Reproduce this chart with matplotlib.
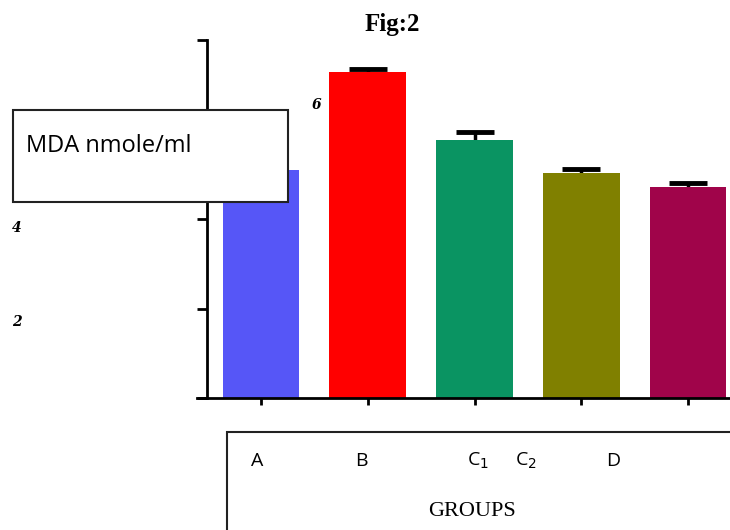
import numpy as np
import matplotlib
matplotlib.use("Agg")
import matplotlib.pyplot as plt
from matplotlib.patches import Rectangle

# data
groups = ["A", "B", "C1", "C2", "D"]
mda = [5.09, 7.28, 5.77, 5.03, 4.72]
sem = [0.10, 0.07, 0.18, 0.09, 0.09]
bar_colors = ["#5656F7", "#FF0000", "#0A9462", "#808000", "#A0044A"]
y_ticks = [0, 2, 4, 6, 8]

W, H = 730, 530
fig = plt.figure(figsize=(W / 100, H / 100), dpi=100)

def fx(px):
    return px / W

def fy(py):
    return 1 - py / H

# axes box in pixels: x 197..730, y 40..398
ax = fig.add_axes([fx(197), fy(398), fx(730) - fx(197), fy(40) - fy(398)])
x = np.arange(len(groups))
ax.bar(x, mda, width=0.72, color=bar_colors, zorder=2)
# error bars sit behind the bars so only the upper half shows
ax.errorbar(x, mda, yerr=sem, fmt="none", ecolor="black",
            elinewidth=2.5, capsize=14, capthick=3.5, zorder=1.5, clip_on=False)

ax.set_xlim(-0.6, 4.393)
ax.set_ylim(0, 8)
for s in ["top", "right"]:
    ax.spines[s].set_visible(False)
ax.spines["left"].set_position(("data", -0.506))
ax.spines["left"].set_linewidth(2)
ax.spines["bottom"].set_linewidth(2)
ax.set_xticks(x)
ax.set_xticklabels([])
ax.set_yticks(y_ticks)
ax.set_yticklabels([])
ax.tick_params(axis="y", length=7, width=2, direction="out")
ax.tick_params(axis="x", length=5, width=2, direction="out")

# stray y labels as they sit in the original
lab = dict(fontfamily="DejaVu Serif", fontweight="bold", fontstyle="italic",
           fontsize=10, ha="center", va="center")
fig.text(fx(316), fy(105), "6", **lab)
fig.text(fx(17), fy(228), "4", **lab)
fig.text(fx(17), fy(322), "2", **lab)

fig.text(fx(392), fy(24), "Fig:2", fontfamily="Liberation Serif", fontweight="bold",
         fontsize=18, ha="center", va="center")

# y-label box on top of the plot
fig.add_artist(Rectangle((fx(13), fy(202)), fx(288) - fx(13), fy(110) - fy(202),
                         transform=fig.transFigure, facecolor="white",
                         edgecolor="#222222", linewidth=1.5, zorder=5))
fig.text(fx(26), fy(146), "MDA nmole/ml", fontfamily="Open Sans", fontsize=17,
         ha="left", va="center", zorder=6)

# x-label box under the plot
fig.add_artist(Rectangle((fx(227), fy(540)), fx(740) - fx(227), fy(432) - fy(540),
                         transform=fig.transFigure, facecolor="white",
                         edgecolor="#222222", linewidth=1.5, zorder=5))
grp_x = [257, 361, 478, 526, 613]
grp_txt = ["A", "B", "C$_1$", "C$_2$", "D"]
for gx, t in zip(grp_x, grp_txt):
    fig.text(fx(gx), fy(461), t, fontfamily="Open Sans", fontsize=14,
             ha="center", va="center", zorder=6)
fig.text(fx(472), fy(511), "GROUPS", fontfamily="Liberation Serif", fontsize=16,
         ha="center", va="center", zorder=6)

fig.savefig("out.png", dpi=100)
